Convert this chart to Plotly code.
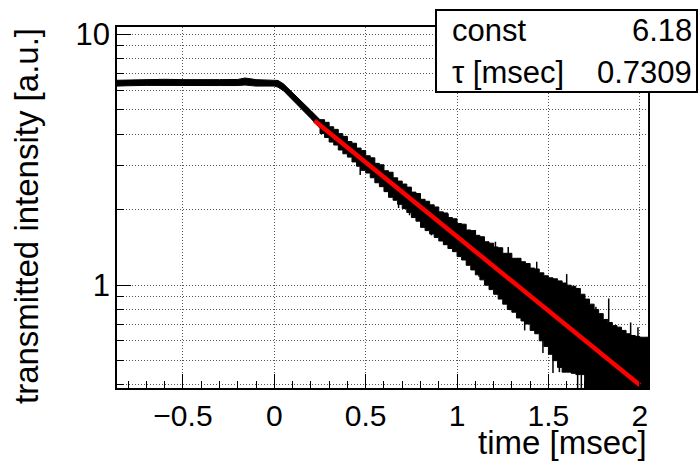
import math
import plotly.graph_objects as go

# ---------------- data ----------------
# smooth part of the measured signal (plateau + onset of decay): band envelope
smooth_t = [-0.861, -0.8, -0.7, -0.6, -0.5, -0.4, -0.3, -0.2, -0.16, -0.1, -0.05, 0.0, 0.02, 0.05, 0.1, 0.15, 0.2, 0.25]
smooth_top = [6.56, 6.58, 6.60, 6.62, 6.60, 6.62, 6.60, 6.61, 6.70, 6.60, 6.58, 6.58, 6.55, 6.35, 5.87, 5.38, 4.97, 4.57]
smooth_bot = [6.22, 6.24, 6.26, 6.25, 6.24, 6.26, 6.25, 6.25, 6.28, 6.22, 6.22, 6.22, 6.16, 5.96, 5.48, 5.02, 4.62, 4.22]

# noisy decaying part: upper / lower envelope of the black band
noisy_t = [0.25, 0.275, 0.30, 0.325, 0.35, 0.375, 0.40, 0.425,
           0.45, 0.475, 0.50, 0.525, 0.55, 0.575, 0.60, 0.625,
           0.65, 0.675, 0.70, 0.725, 0.75, 0.775, 0.80, 0.825,
           0.85, 0.875, 0.90, 0.925, 0.95, 0.975, 1.00, 1.025,
           1.05, 1.075, 1.10, 1.125, 1.15, 1.175, 1.20, 1.225,
           1.25, 1.275, 1.30, 1.325, 1.35, 1.375, 1.40, 1.425,
           1.45, 1.475, 1.50, 1.525, 1.55, 1.575, 1.60, 1.625,
           1.65, 1.675, 1.70, 1.725, 1.75, 1.775, 1.80, 1.825,
           1.85, 1.875, 1.90, 1.925, 1.95, 1.975, 2.00, 2.025,
           2.045]
noisy_top = [4.57, 4.46, 4.28, 4.18, 4.02, 3.92, 3.74, 3.68,
             3.52, 3.44, 3.28, 3.22, 3.06, 3.02, 2.86, 2.82,
             2.68, 2.60, 2.53, 2.46, 2.35, 2.32, 2.20, 2.16,
             2.09, 2.05, 1.96, 1.94, 1.86, 1.84, 1.76, 1.75,
             1.66, 1.65, 1.58, 1.56, 1.49, 1.47, 1.42, 1.41,
             1.34, 1.34, 1.28, 1.28, 1.24, 1.22, 1.17, 1.16,
             1.12, 1.09, 1.07, 1.06, 1.04, 1.02, 1.00, 0.99,
             0.97, 0.92, 0.88, 0.84, 0.80, 0.77, 0.73, 0.71,
             0.69, 0.68, 0.66, 0.64, 0.63, 0.625, 0.62, 0.62,
             0.62]
noisy_bot = [4.22, 4.02, 3.88, 3.72, 3.62, 3.46, 3.34, 3.24,
             3.10, 2.98, 2.87, 2.80, 2.68, 2.56, 2.47, 2.36,
             2.24, 2.18, 2.10, 2.02, 1.95, 1.86, 1.80, 1.70,
             1.65, 1.60, 1.55, 1.50, 1.45, 1.40, 1.36, 1.30,
             1.26, 1.20, 1.15, 1.10, 1.05, 1.00, 0.96, 0.92,
             0.88, 0.84, 0.80, 0.78, 0.74, 0.72, 0.70, 0.66,
             0.64, 0.60, 0.57, 0.53, 0.50, 0.47, 0.45, 0.45,
             0.445, 0.44, 0.44, 0.30, 0.30, 0.30, 0.30, 0.30,
             0.30, 0.30, 0.30, 0.30, 0.30, 0.30, 0.30, 0.30,
             0.30]

# individual noise spikes: time, start value, end value
spike_t = [0.47, 0.56, 0.68, 0.74, 0.86, 0.93, 1.07, 1.12, 1.235, 1.29, 1.37, 1.455, 1.47, 1.525, 1.56,
           1.66, 1.68, 1.70, 0.95, 1.10, 1.21, 1.28, 1.33, 1.436, 1.60, 1.66, 1.76, 1.83, 1.95, 1.99]
spike_from = [3.0, 2.8, 2.3, 2.1, 1.8, 1.6, 1.4, 1.3, 1.1, 1.0, 0.9, 0.8, 0.8, 0.7, 0.6,
              0.55, 0.55, 0.5, 1.7, 1.5, 1.3, 1.2, 1.1, 1.0, 0.8, 0.7, 0.65, 0.6, 0.55, 0.55]
spike_to = [2.75, 2.58, 2.03, 1.90, 1.58, 1.45, 1.22, 1.08, 0.885, 0.795, 0.66, 0.62, 0.536, 0.446, 0.45,
            0.30, 0.30, 0.30, 1.92, 1.66, 1.49, 1.42, 1.28, 1.24, 1.107, 0.97, 0.82, 0.885, 0.71, 0.68]

# exponential fit (straight on log axis), end points
fit_t = [0.22, 2.0]
fit_y = [4.52, 0.40]

fit_labels = ["const", "τ [msec]"]
fit_values = ["6.18", "0.7309"]

x_ticks = [-0.5, 0, 0.5, 1, 1.5, 2]
x_tick_labels = ["−0.5", "0", "0.5", "1", "1.5", "2"]
y_grid_ticks = [0.4, 0.5, 0.6, 0.7, 0.8, 0.9, 1, 2, 3, 4, 5, 6, 7, 8, 9, 10]
y_major_ticks = [1, 10]
y_major_labels = ["1", "10"]

x_title = "time [msec]"
y_title = "transmitted intensity [a.u.]"

# ---------------- layout geometry ----------------
W, H = 698, 462
L, R, T, B = 117, 50, 27, 74
PW, PH = W - L - R, H - T - B
def px(xp):
    return (xp - L) / PW
def py(yp):
    return 1 - (yp - T) / PH

FONT = "Liberation Sans, Arial, Helvetica, sans-serif"
yr = [math.log10(0.389), math.log10(10.7)]

fig = go.Figure()
fig.add_trace(go.Scatter(
    x=smooth_t + smooth_t[::-1], y=smooth_top + smooth_bot[::-1],
    mode="lines", fill="toself", fillcolor="black",
    line=dict(color="black", width=1), hoverinfo="skip", showlegend=False))
fig.add_trace(go.Scatter(
    x=noisy_t + noisy_t[::-1], y=noisy_top + noisy_bot[::-1],
    mode="lines", fill="toself", fillcolor="black",
    line=dict(color="black", width=1, shape="hv"), hoverinfo="skip", showlegend=False))
sx, sy = [], []
for t, a, b in zip(spike_t, spike_from, spike_to):
    sx += [t, t, None]
    sy += [a, b, None]
fig.add_trace(go.Scatter(x=sx, y=sy, mode="lines", line=dict(color="black", width=1.5),
                         hoverinfo="skip", showlegend=False))
fig.add_trace(go.Scatter(x=fit_t, y=fit_y, mode="lines", line=dict(color="#ff0000", width=4.5),
                         hoverinfo="skip", showlegend=False))
fig.add_trace(go.Scatter(x=[0], y=[1], yaxis="y2", mode="markers", marker=dict(opacity=0),
                         hoverinfo="skip", showlegend=False))

grid = dict(showgrid=True, gridcolor="#555555", gridwidth=1, griddash="1px,2px")
fig.update_layout(
    width=W, height=H, margin=dict(l=L, r=R, t=T, b=B),
    paper_bgcolor="white", plot_bgcolor="white",
    font=dict(family=FONT, size=31, color="black"),
    xaxis=dict(range=[-0.861, 2.045], tickmode="array", tickvals=x_ticks, ticktext=x_tick_labels,
               ticks="inside", ticklen=14, tickwidth=1, tickcolor="black",
               showline=True, linecolor="black", linewidth=2, mirror=True, zeroline=False,
               tickfont=dict(size=30, family=FONT, color="black"),
               minor=dict(tickmode="linear", tick0=0, dtick=0.1, ticks="inside", ticklen=7,
                          tickcolor="black", tickwidth=1, showgrid=False),
               **grid),
    yaxis=dict(type="log", range=yr, tickmode="array", tickvals=y_grid_ticks,
               showticklabels=False, ticks="inside", ticklen=7, tickwidth=1, tickcolor="black",
               showline=True, linecolor="black", linewidth=2, mirror=True, zeroline=False, **grid),
    yaxis2=dict(type="log", range=yr, overlaying="y", side="left", anchor="x",
                tickmode="array", tickvals=y_major_ticks, ticktext=y_major_labels,
                ticks="inside", ticklen=14, tickwidth=1, tickcolor="black",
                showgrid=False, showline=False, zeroline=False, ticklabelstandoff=6,
                tickfont=dict(size=31, family=FONT, color="black")),
)

# stats box
fig.add_shape(type="rect", xref="paper", yref="paper", x0=px(436), x1=px(697), y0=py(92), y1=py(10),
              line=dict(color="black", width=2), fillcolor="white", layer="above")
rows_y = [30.5, 72.3]
for lab, val, yy in zip(fit_labels, fit_values, rows_y):
    fig.add_annotation(text=lab, xref="paper", yref="paper", x=px(450), y=py(yy), xanchor="left",
                       yanchor="middle", showarrow=False, font=dict(size=31, family=FONT, color="black"))
    fig.add_annotation(text=val, xref="paper", yref="paper", x=px(694), y=py(yy), xanchor="right",
                       yanchor="middle", showarrow=False, font=dict(size=31, family=FONT, color="black"))

fig.add_annotation(text=x_title, xref="paper", yref="paper", x=px(648), y=py(462), xanchor="right",
                   yanchor="bottom", showarrow=False, borderpad=0,
                   font=dict(size=33, family=FONT, color="black"))
fig.add_annotation(text=y_title, xref="paper", yref="paper", x=px(26), y=py(26), xanchor="center",
                   yanchor="top", textangle=-90, showarrow=False,
                   font=dict(size=33, family=FONT, color="black"))

fig.write_html("out.html")
